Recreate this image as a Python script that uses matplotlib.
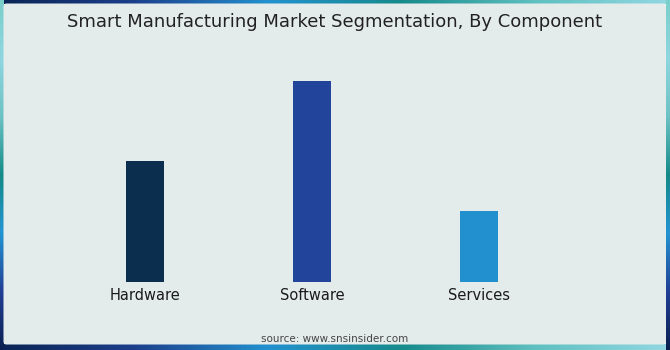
import numpy as np
import matplotlib
matplotlib.use("Agg")
import matplotlib.pyplot as plt
from matplotlib.patches import FancyBboxPatch
from matplotlib.colors import LinearSegmentedColormap

# Market segmentation by component (relative market size)
categories = ["Hardware", "Software", "Services"]
values = [6.0, 10.0, 3.55]
bar_colors = ["#0B2D4E", "#22449A", "#2290CF"]

title = "Smart Manufacturing Market Segmentation, By Component"
source = "source: www.snsinsider.com"

W, H = 670, 350
fig = plt.figure(figsize=(W / 100, H / 100), dpi=100)

# Background layer in pixel coordinates (y grows downwards)
bg = fig.add_axes([0, 0, 1, 1])
bg.set_xlim(0, W)
bg.set_ylim(H, 0)
bg.axis("off")

horiz = LinearSegmentedColormap.from_list(
    "horiz", ["#0A2454", "#1C3F8C", "#2391CF", "#178A8C", "#5FC0C0", "#92D8E2"])
vert = LinearSegmentedColormap.from_list(
    "vert", ["#7ACFCB", "#8FD6E0", "#6CC2C4", "#148A88", "#2394D2", "#213F96", "#0A2050"])
ramp = np.linspace(0, 1, 256)

bg.imshow(ramp[np.newaxis, :], cmap=horiz, aspect="auto", extent=(0, W, 4, 0))
bg.imshow(ramp[np.newaxis, :], cmap=horiz, aspect="auto", extent=(0, W, H, H - 6))
bg.imshow(ramp[:, np.newaxis], cmap=vert, aspect="auto", extent=(0, 4, H, 0))
bg.imshow(ramp[:, np.newaxis], cmap=vert, aspect="auto", extent=(W - 4, W, H, 0))

panel = FancyBboxPatch((3.5, 3.5), W - 7.5, H - 9.0,
                       boxstyle="round,pad=0,rounding_size=3",
                       facecolor="#E4ECEB", edgecolor="none")
bg.add_patch(panel)

bg.text(W / 2, 22, title, ha="center", va="center", fontsize=13,
        color="#222222", family="DejaVu Sans")
bg.text(W / 2, 339, source, ha="center", va="center", fontsize=7.5,
        color="#444444", family="DejaVu Sans")

# Bar chart axes
base_px, top_px = 282, 81
left_px, step_px = 145 - 0.5 * 167, 167
ax = fig.add_axes([left_px / W, 1 - base_px / H, 3 * step_px / W, (base_px - top_px) / H])
ax.patch.set_alpha(0)
x = np.arange(len(categories))
ax.bar(x, values, width=0.225, color=bar_colors)
ax.set_xlim(-0.5, 2.5)
ax.set_ylim(0, max(values))
ax.set_xticks(x)
ax.set_xticklabels(categories, fontsize=10.5, color="#1a1a1a", family="DejaVu Sans")
ax.tick_params(axis="x", length=0, pad=4)
ax.set_yticks([])
for s in ax.spines.values():
    s.set_visible(False)

fig.savefig("out.png", dpi=100)
